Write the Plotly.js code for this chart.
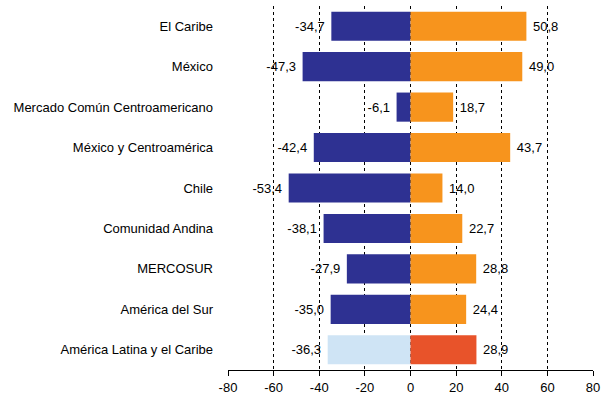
<!DOCTYPE html>
<html><head><meta charset="utf-8">
<script src="https://cdn.plot.ly/plotly-3.0.1.min.js"></script>
<style>body{margin:0;padding:0;background:#fff}#c{width:602px;height:402px}</style>
</head><body><div id="c"></div>
<script>
const categories = ["El Caribe","México","Mercado Común Centroamericano","México y Centroamérica","Chile","Comunidad Andina","MERCOSUR","América del Sur","América Latina y el Caribe"];
const negValues = [-34.7,-47.3,-6.1,-42.4,-53.4,-38.1,-27.9,-35.0,-36.3];
const posValues = [50.8,49.0,18.7,43.7,14.0,22.7,28.8,24.4,28.9];
const xTicks = [-80,-60,-40,-20,0,20,40,60,80];

const fmt = v => v.toFixed(1).replace('.', ',');
const last = categories.length - 1;
const negColors = categories.map((c,i) => i === last ? '#CFE4F5' : '#2E3192');
const posColors = categories.map((c,i) => i === last ? '#E8532A' : '#F7941D');
const font = {family: 'Liberation Sans, Arial, sans-serif', size: 13, color: '#000'};

const traces = [
  {type:'bar', orientation:'h', y:categories, x:negValues, marker:{color:negColors},
   text:negValues.map(v => fmt(v) + ' '), textposition:'outside', textfont:font, cliponaxis:false, hoverinfo:'none'},
  {type:'bar', orientation:'h', y:categories, x:posValues, marker:{color:posColors},
   text:posValues.map(v => ' ' + fmt(v)), textposition:'outside', textfont:font, cliponaxis:false, hoverinfo:'none'}
];
const bounds = categories.map((c,i) => i - 0.5).concat([last + 0.5]);
const layout = {
  width:602, height:402, margin:{l:228, r:9, t:6, b:32},
  paper_bgcolor:'#fff', plot_bgcolor:'#fff', showlegend:false,
  barmode:'relative', bargap:0.28, font:font,
  xaxis:{range:[-80,80], tickvals:xTicks, ticktext:xTicks.map(String), showgrid:true,
    gridcolor:'#000', griddash:'3px,3px', gridwidth:1, zeroline:false,
    showline:true, linecolor:'#000', linewidth:1, ticks:'outside', ticklen:5, tickcolor:'#000',
    tickfont:font, fixedrange:true},
  yaxis:{type:'category', range:[last + 0.5, -0.5], showgrid:false, zeroline:false, showline:false,
    ticks:'', ticklabelstandoff:14, tickfont:font},
  yaxis2:{overlaying:'y', anchor:'free', position:0.5, side:'left', range:[last + 0.5, -0.5],
    tickmode:'array', tickvals:bounds, showticklabels:false, ticks:'outside', ticklen:4,
    tickcolor:'#000', showline:true, linecolor:'#000', linewidth:1.5, showgrid:false, zeroline:false}
};
Plotly.newPlot('c', traces, layout, {staticPlot:true});
</script></body></html>
